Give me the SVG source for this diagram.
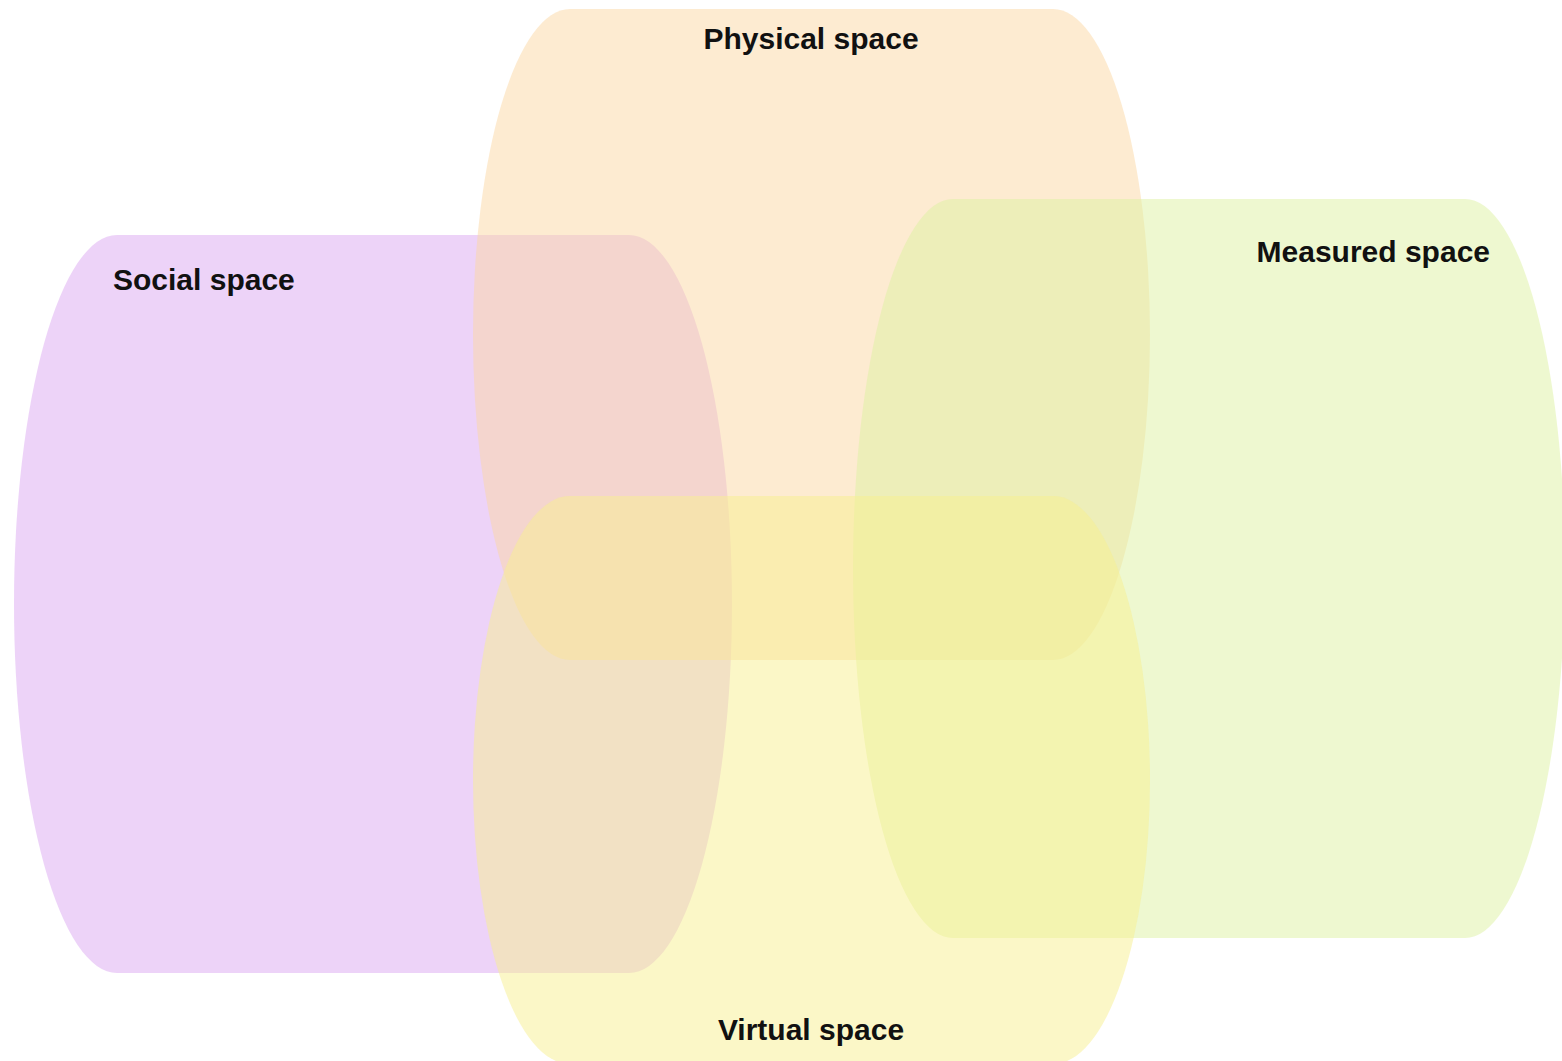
<svg xmlns="http://www.w3.org/2000/svg" width="1562" height="1061" viewBox="0 0 1562 1061">
  <style>
    .space { fill-opacity: 0.5; stroke: none; }
    .label { font-family: "Liberation Sans", Arial, Helvetica, sans-serif; font-weight: bold; font-size: 30px; fill: #111111; }
  </style>
  <rect width="1562" height="1061" fill="#ffffff"/>
  <g id="social-space">
    <rect class="space" x="14" y="235" width="718" height="738" rx="103" ry="369" fill="#dba7f1"/>
    <text class="label" x="113" y="290">Social space</text>
  </g>
  <g id="physical-space">
    <rect class="space" x="473" y="9" width="677" height="651" rx="97" ry="325.5" fill="#fbd7a3"/>
    <text class="label" x="811" y="49" text-anchor="middle">Physical space</text>
  </g>
  <g id="measured-space">
    <rect class="space" x="853" y="199" width="712" height="739" rx="100" ry="369.5" fill="#ddf1a1"/>
    <text class="label" x="1490" y="262" text-anchor="end">Measured space</text>
  </g>
  <g id="virtual-space">
    <rect class="space" x="473" y="496" width="677" height="568" rx="97" ry="284" fill="#f7ef90"/>
    <text class="label" x="811" y="1040" text-anchor="middle">Virtual space</text>
  </g>
  <g id="connectors"/>
</svg>
